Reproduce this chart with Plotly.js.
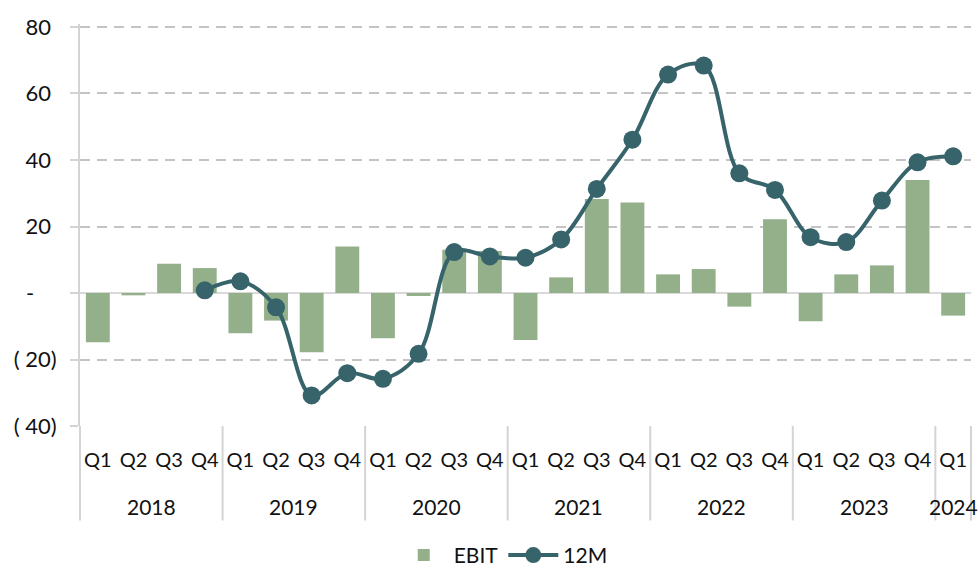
<!DOCTYPE html>
<html>
<head>
<meta charset="utf-8">
<script src="https://cdn.plot.ly/plotly-3.0.1.min.js"></script>
<style>
  html, body { margin: 0; padding: 0; background: #fff; }
  #chart { width: 979px; height: 568px; }
</style>
</head>
<body>
<div id="chart"></div>
<script>
// quarters 2018 Q1 .. 2024 Q1
const years = ['2018','2018','2018','2018','2019','2019','2019','2019','2020','2020','2020','2020',
               '2021','2021','2021','2021','2022','2022','2022','2022','2023','2023','2023','2023','2024'];
const quarters = ['Q1','Q2','Q3','Q4','Q1','Q2','Q3','Q4','Q1','Q2','Q3','Q4',
                  'Q1','Q2','Q3','Q4','Q1','Q2','Q3','Q4','Q1','Q2','Q3','Q4','Q1'];

const ebit = [-14.8, -0.7, 8.8, 7.5, -12.1, -8.3, -17.8, 14.0, -13.6, -0.9, 13.0, 12.6,
              -14.1, 4.7, 28.3, 27.2, 5.6, 7.2, -4.1, 22.2, -8.5, 5.6, 8.3, 34.0, -6.8];
const twelveM = [null, null, null, 0.8, 3.5, -4.3, -30.8, -24.1, -25.8, -18.3, 12.3, 11.0,
                 10.6, 16.1, 31.3, 46.1, 65.7, 68.4, 36.0, 31.0, 16.8, 15.3, 27.8, 39.3, 41.1];

const yTickVals = [-40, -20, 0, 20, 40, 60, 80];
const yTickText = ['( 40)', '( 20)', '-\u00a0\u00a0\u00a0\u00a0', '20\u00a0', '40\u00a0', '60\u00a0', '80\u00a0'];

const font = 'Lato, "Open Sans", sans-serif';
const cats = years.map((y, i) => y + ' ' + quarters[i]);
const n = cats.length;

// year groups: first and last index of each year
const groups = [];
years.forEach((y, i) => {
  const g = groups[groups.length - 1];
  if (g && g.year === y) g.end = i;
  else groups.push({year: y, start: i, end: i});
});

const annotations = groups.map(g => ({
  x: (g.start + g.end) / 2, xref: 'x', y: -0.2, yref: 'paper',
  text: g.year, showarrow: false, yanchor: 'middle',
  font: {size: 21, color: '#111'}
}));

// dividers below the axis at each year boundary and at both ends
const edges = groups.map(g => g.start).concat([n]);
const shapes = edges.map(i => ({
  type: 'line', xref: 'paper', yref: 'paper',
  x0: i / n, x1: i / n, y0: 0, y1: -0.235,
  line: {color: '#D4D4D4', width: 2}
}));

const traces = [
  {
    type: 'bar', name: 'EBIT', x: cats, y: ebit,
    marker: {color: '#93B08B'}
  },
  {
    type: 'scatter', mode: 'lines+markers', name: '12M', x: cats, y: twelveM,
    line: {color: '#37636B', width: 4, shape: 'spline', smoothing: 1},
    marker: {color: '#37636B', size: 18}
  }
];

const layout = {
  width: 979, height: 568,
  margin: {l: 80, r: 8, t: 24, b: 142, autoexpand: false},
  paper_bgcolor: '#fff', plot_bgcolor: '#fff',
  font: {family: font, color: '#111', size: 20},
  bargap: 0.33,
  showlegend: true,
  legend: {orientation: 'h', x: 0.475, xanchor: 'center', y: -0.322, yanchor: 'middle',
           itemwidth: 50, font: {size: 21, color: '#111'}},
  annotations: annotations,
  shapes: shapes,
  xaxis: {
    type: 'category', automargin: false,
    range: [-0.5, n - 0.5], autorange: false,
    tickvals: cats, ticktext: quarters,
    showgrid: false, ticks: '', tickangle: 0,
    ticklabelstandoff: 20,
    tickfont: {size: 20, color: '#111'},
    showline: false
  },
  yaxis: {
    range: [-40, 80.9], automargin: false,
    tickvals: yTickVals, ticktext: yTickText,
    tickfont: {size: 22, color: '#111'},
    ticks: 'outside', ticklen: 8, tickcolor: '#D4D4D4', tickwidth: 2,
    ticklabelstandoff: 9,
    showgrid: true, gridcolor: '#C4C4C4', gridwidth: 2, griddash: '10px,7px',
    zeroline: true, zerolinecolor: '#D9D9D9', zerolinewidth: 2,
    showline: true, linecolor: '#D4D4D4', linewidth: 2
  }
};

Plotly.newPlot('chart', traces, layout, {displayModeBar: false, staticPlot: true});
</script>
</body>
</html>
